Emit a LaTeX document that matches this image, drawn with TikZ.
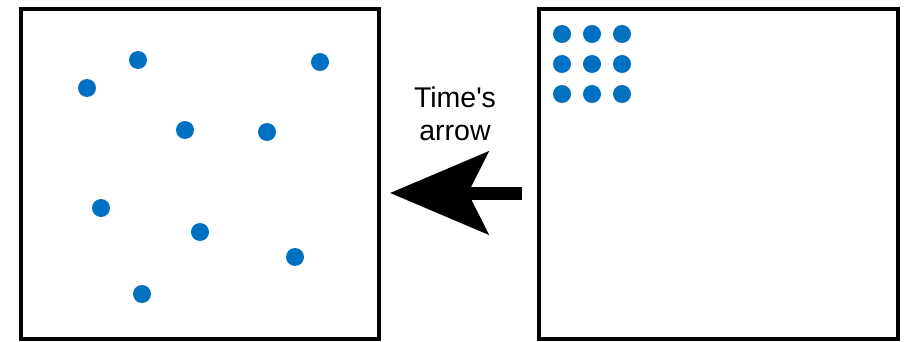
\documentclass[tikz,border=0pt]{standalone}
\usepackage{fontspec}
\setsansfont{Liberation Sans}
\usepackage{tikz}
\usetikzlibrary{arrows.meta}
\definecolor{dotblue}{RGB}{0,112,192}

\begin{document}
\begin{tikzpicture}[x=1pt,y=-1pt]
		% 0. 画布大小与像素一致
		\useasboundingbox (0,0) rectangle (905,342);
		\def\r{9}
		
		% 1. 左右两个方框
		\draw[line width=4pt] (21,9) rectangle (379,339);
		\draw[line width=4pt] (539,9) rectangle (898,339);
		
		% 2. 左框中散开的蓝点
		\foreach \x/\y in {138/60, 87/88, 320/62, 185/130, 267/132,
			101/208, 200/232, 295/257, 142/294}
		\fill[dotblue] (\x,\y) circle (\r);
		
		% 3. 右框左上角聚集的蓝点 (3x3)
		\foreach \i in {0,1,2}
		\foreach \j in {0,1,2}
		\fill[dotblue] ({562+30*\i},{34+30*\j}) circle (\r);
		
		% 4. 时间之箭
		\coordinate (T) at (522,193);
		\coordinate (H) at (390,193);
		\draw[line width=13pt, -{Stealth[length=98pt, width=82pt, inset=20pt]}] (T) -- (H);
		\node[font=\sffamily\fontsize{28.5}{33}\selectfont, align=center] (lab) at (455,114) {Time\textquotesingle s\\arrow};
		
	\end{tikzpicture}
\end{document}
